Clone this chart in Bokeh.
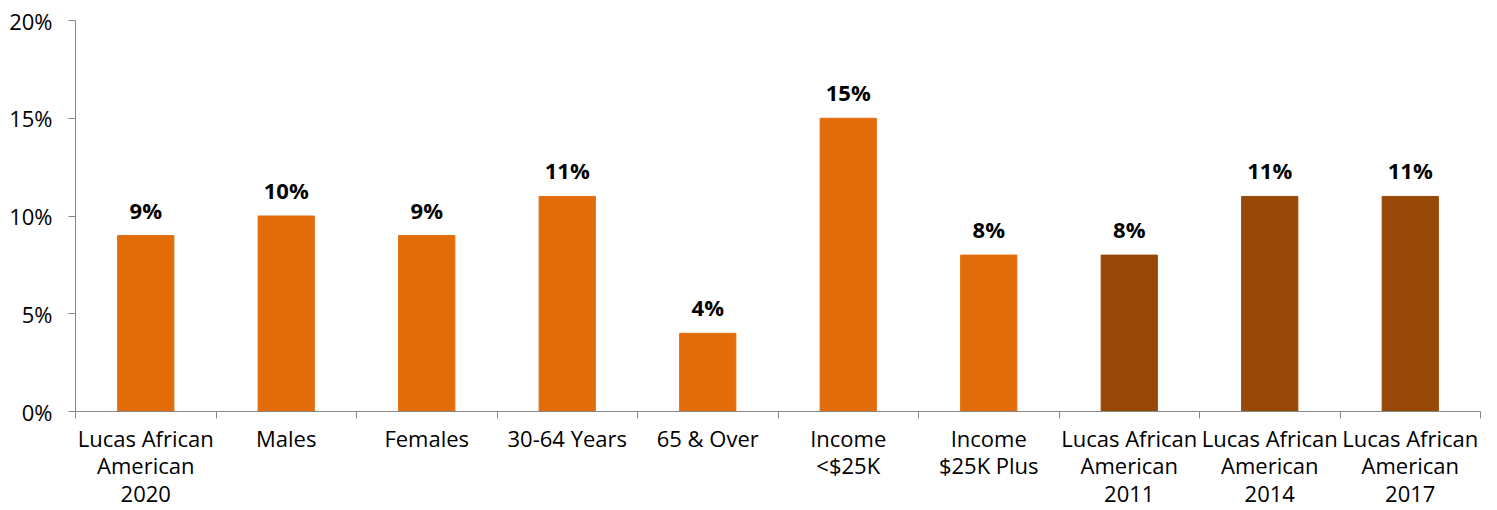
from bokeh.plotting import figure
from bokeh.models import Range1d, FixedTicker, CustomJSTickFormatter, ColumnDataSource
from bokeh.core.properties import value
from bokeh.embed import file_html
from bokeh.resources import INLINE

categories = ["Lucas African\nAmerican\n2020", "Males", "Females", "30-64 Years", "65 & Over",
              "Income\n<$25K", "Income\n$25K Plus", "Lucas African\nAmerican\n2011",
              "Lucas African\nAmerican\n2014", "Lucas African\nAmerican\n2017"]
values = [9, 10, 9, 11, 4, 15, 8, 8, 11, 11]
groups = ["current"] * 7 + ["trend"] * 3
y_ticks = [0, 5, 10, 15, 20]
y_tick_labels = ["0%", "5%", "10%", "15%", "20%"]

group_colors = {"current": "#E36C0A", "trend": "#984807"}
FONT = "Open Sans"

n = len(categories)
xs = [i + 0.5 for i in range(n)]
src = ColumnDataSource(dict(
    x=xs, top=values, color=[group_colors[g] for g in groups],
    label=[f"{v}%" for v in values],
))

p = figure(width=1490, height=510, output_backend="svg", toolbar_location=None,
           x_range=Range1d(0, n), y_range=Range1d(0, 20))
p.min_border_left = 75
p.min_border_right = 10
p.min_border_top = 20
p.min_border_bottom = 99
p.outline_line_color = None
p.background_fill_color = "white"
p.border_fill_color = "white"
p.grid.visible = False

p.vbar(x="x", top="top", width=0.4, color="color", source=src)
p.text(x="x", y="top", text="label", source=src, text_align="center",
       text_baseline="alphabetic", y_offset=-26, text_font=value(FONT),
       text_font_style="bold", text_font_size="22px", text_color="#000000")

ax = p.xaxis[0]
ax.ticker = FixedTicker(ticks=xs, minor_ticks=list(range(n + 1)))
ax.formatter = CustomJSTickFormatter(args=dict(labels=categories),
                                     code="return labels[Math.floor(tick)];")
ax.major_tick_line_color = None
ax.minor_tick_in = 0
ax.minor_tick_out = 7
ax.minor_tick_line_color = "#868686"
ax.axis_line_color = "#868686"
ax.major_label_text_font = FONT
ax.major_label_text_font_size = "22px"
ax.major_label_text_line_height = 0.92
ax.major_label_text_color = "#000000"
ax.major_label_standoff = 4

ay = p.yaxis[0]
ay.ticker = FixedTicker(ticks=y_ticks, minor_ticks=[])
ay.major_label_overrides = {t: l for t, l in zip(y_ticks, y_tick_labels)}
ay.major_tick_in = 0
ay.major_tick_out = 7
ay.major_tick_line_color = "#868686"
ay.axis_line_color = "#868686"
ay.minor_tick_line_color = None
ay.major_label_text_font = FONT
ay.major_label_text_font_size = "22px"
ay.major_label_text_color = "#000000"
ay.major_label_standoff = 16

open("out.html", "w").write(file_html(p, INLINE))
